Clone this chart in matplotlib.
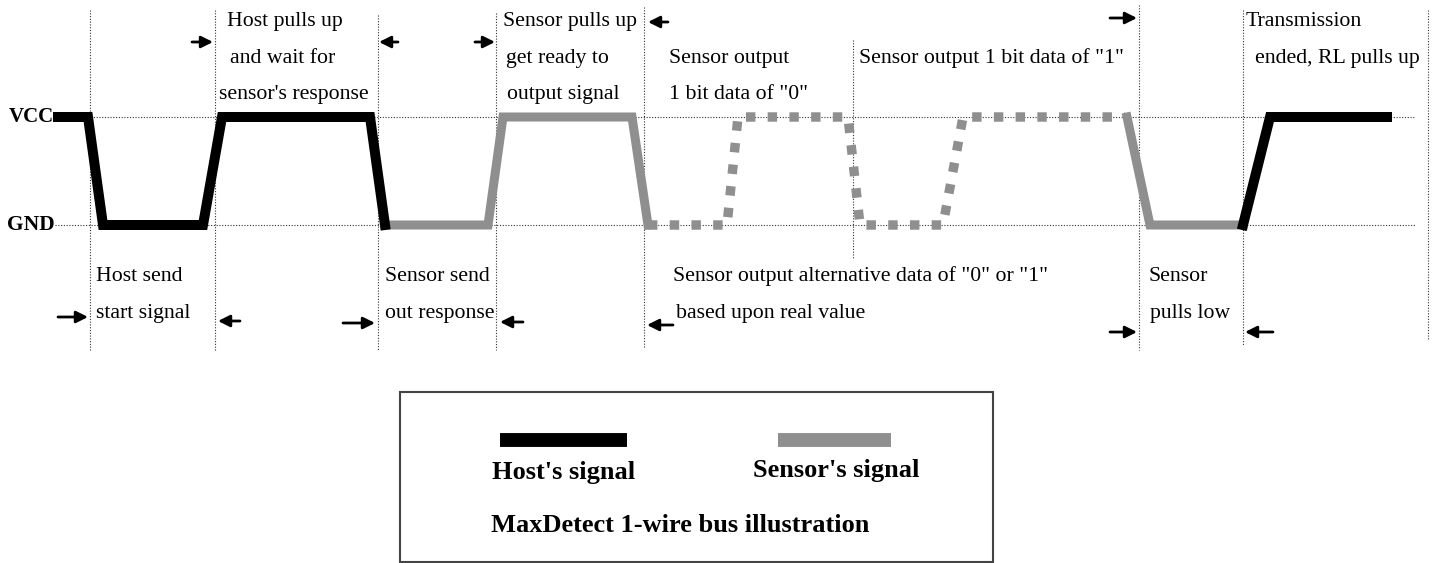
import matplotlib
matplotlib.use("Agg")
import matplotlib.pyplot as plt
from matplotlib.patches import Rectangle

plt.rcParams['font.family'] = ['Liberation Serif', 'DejaVu Serif']

# waveform data: time (horizontal position) and logic level (1 = VCC, 0 = GND)
host_start_t = [58, 88, 103, 203, 222, 370, 385]
host_start_lvl = [1, 1, 0, 0, 1, 1, 0]
sensor_resp_t = [385, 488, 503, 632, 648]
sensor_resp_lvl = [0, 0, 1, 1, 0]
sensor_bits_t = [648, 727, 738, 848, 860, 943, 963, 1125]
sensor_bits_lvl = [0, 0, 1, 1, 0, 0, 1, 1]
sensor_low_t = [1127, 1150, 1243]
sensor_low_lvl = [1, 0, 0]
host_end_t = [1243, 1270, 1387]
host_end_lvl = [0, 1, 1]

# phase boundaries (time, top row, bottom row)
bounds_t = [90, 215, 378, 496, 644, 853, 1139, 1243, 1428]
bounds_top = [10, 10, 15, 13, 7, 40, 5, 10, 10]
bounds_bot = [350, 350, 350, 350, 348, 258, 350, 345, 340]

# annotation texts (x, row, text)
top_notes = [
    (227, 21, "Host pulls up"), (230, 58, "and wait for"), (219, 94, "sensor's response"),
    (503, 21, "Sensor pulls up"), (506, 58, "get ready to"), (507, 94, "output signal"),
    (669, 58, "Sensor output"), (669, 94, '1 bit data of "0"'),
    (859, 58, 'Sensor output 1 bit data of "1"'),
    (1246, 21, "Transmission"), (1255, 58, "ended, RL pulls up"),
]
bottom_notes = [
    (96, 276, "Host send"), (96, 313, "start signal"),
    (385, 276, "Sensor send"), (385, 313, "out response"),
    (673, 276, 'Sensor output alternative data of "0" or "1"'),
    (676, 313, "based upon real value"),
    (1148, 276, "Sensor"), (1150, 313, "pulls low"),
]
# arrows (tail x, head x, row)
arrows = [
    (58, 88, 317), (240, 218, 321), (343, 375, 323), (523, 500, 322),
    (673, 647, 325), (1110, 1137, 332), (1273, 1245, 332),
    (192, 213, 42), (398, 379, 42), (475, 495, 42), (668, 648, 22), (1110, 1137, 18),
]

W, H = 1439, 563
VCC_ROW, GND_ROW = 117, 225


def lvl(row):
    # pixel row -> level units
    return (GND_ROW - row) / (GND_ROW - VCC_ROW)


fig = plt.figure(figsize=(W / 100, H / 100), dpi=100)
ax = fig.add_axes([0, 0, 1, 1])
ax.set_xlim(0, W)
ax.set_ylim(lvl(H), lvl(0))
ax.axis('off')

grid_kw = dict(color='#333333', lw=0.8, ls=(0, (1, 1.5)), zorder=1)
ax.plot([60, 1415], [1, 1], **grid_kw)
ax.plot([55, 1415], [0, 0], **grid_kw)
for x, t, b in zip(bounds_t, bounds_top, bounds_bot):
    ax.plot([x, x], [lvl(t), lvl(b)], **grid_kw)

black = '#000000'
gray = '#8f8f8f'
ax.plot(host_start_t, host_start_lvl, color=black, lw=7.2, solid_joinstyle='miter', zorder=3)
ax.plot(host_end_t, host_end_lvl, color=black, lw=7.2, solid_joinstyle='miter', zorder=3)
ax.plot(sensor_resp_t, sensor_resp_lvl, color=gray, lw=6.5, solid_joinstyle='miter', zorder=2)
ax.plot(sensor_low_t, sensor_low_lvl, color=gray, lw=6.5, solid_joinstyle='miter', zorder=2)
ax.plot(sensor_bits_t, sensor_bits_lvl, color=gray, lw=6.8, ls=(0, (1.0, 1.3)),
        dash_capstyle='butt', zorder=2)

ax.text(9, 1, "VCC", fontsize=15, fontweight='bold', va='center', ha='left')
ax.text(7, 0, "GND", fontsize=15.5, fontweight='bold', va='center', ha='left')

for x, r, s in top_notes + bottom_notes:
    ax.text(x, lvl(r), s, fontsize=15.7, va='center', ha='left')

for x0, x1, r in arrows:
    ax.annotate("", xy=(x1, lvl(r)), xytext=(x0, lvl(r)),
                arrowprops=dict(arrowstyle='-|>,head_length=0.7,head_width=0.35',
                                color='black', lw=2, shrinkA=0, shrinkB=0))

# legend box
ax.add_patch(Rectangle((400, lvl(562)), 593, lvl(392) - lvl(562), fill=False,
                       edgecolor='#444444', lw=1.5, zorder=1))
ax.plot([500, 627], [lvl(439.5)] * 2, color=black, lw=10, solid_capstyle='butt')
ax.plot([778, 891], [lvl(439.5)] * 2, color=gray, lw=10, solid_capstyle='butt')
ax.text(492, lvl(472), "Host's signal", fontsize=19, fontweight='bold', va='center')
ax.text(753, lvl(470), "Sensor's signal", fontsize=19, fontweight='bold', va='center')
ax.text(491, lvl(526), "MaxDetect 1-wire bus illustration", fontsize=19,
        fontweight='bold', va='center')

fig.savefig("out.png", dpi=100, facecolor='white')
